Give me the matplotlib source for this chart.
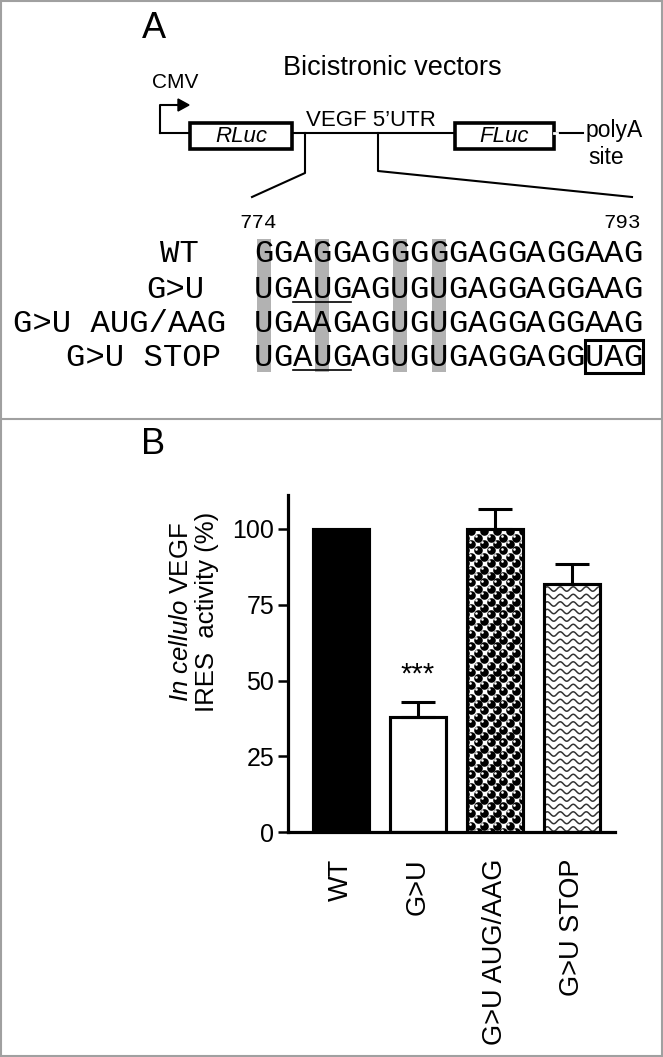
import numpy as np
import matplotlib
matplotlib.use('Agg')
import matplotlib.pyplot as plt
from matplotlib.patches import Rectangle, Polygon
from matplotlib.transforms import IdentityTransform

plt.rcParams['font.family'] = ['Liberation Sans', 'DejaVu Sans']
plt.rcParams['mathtext.fontset'] = 'custom'
plt.rcParams['mathtext.it'] = 'Liberation Sans:italic'
plt.rcParams['mathtext.rm'] = 'Liberation Sans'

# Panel A: sequences
row_labels = ['WT', 'G>U', 'G>U AUG/AAG', 'G>U STOP']
sequences = ['GGAGGAGGGGGAGGAGGAAG',
             'UGAUGAGUGUGAGGAGGAAG',
             'UGAAGAGUGUGAGGAGGAAG',
             'UGAUGAGUGUGAGGAGGUAG']
mutated_pos = [0, 3, 7, 9]
aug_underlined = [False, True, False, True]
nt_first, nt_last = '774', '793'

# Panel B: IRES activity
constructs = ['WT', 'G>U', 'G>U AUG/AAG', 'G>U STOP']
activity = [100, 38, 100, 82]
sem = [0, 5, 6.5, 6.5]
y_ticks = [0, 25, 50, 75, 100]

PX = 0.72  # points per pixel at dpi 100
mono = 'Liberation Mono'

fig = plt.figure(figsize=(6.63, 10.57), dpi=100)

# overlay in pixel coordinates for the schematic
ov = fig.add_axes([0, 0, 1, 1])
ov.set_xlim(0, 663)
ov.set_ylim(1057, 0)
ov.axis('off')

# frame + panel divider
ov.add_patch(Rectangle((1, 1), 661, 1055, fill=False, ec='#a0a0a0', lw=1.5))
ov.plot([1, 662], [419, 419], color='#a0a0a0', lw=1.5)

# ---- panel A ----
ov.text(154, 28, 'A', fontsize=26, ha='center', va='center')
ov.text(392, 68, 'Bicistronic vectors', fontsize=19.5, ha='center', va='center')
ov.text(175, 82, 'CMV', fontsize=15, ha='center', va='center')

# promoter arrow
ov.plot([160, 160, 179], [133, 105, 105], color='black', lw=1.5)
ov.add_patch(Polygon([[178, 99], [189, 105], [178, 111]], color='black'))

# backbone + boxes
ov.plot([160, 583], [133, 133], color='black', lw=1.5, zorder=1)
for x0, x1, name in [(190, 292, 'RLuc'), (455, 554, 'FLuc')]:
    ov.add_patch(Rectangle((x0, 123), x1 - x0, 26, fc='white', ec='black',
                           lw=2.6, zorder=2))
    ov.text((x0 + x1) / 2, 137, name, style='italic', fontsize=16,
            ha='center', va='center', zorder=3)
ov.plot([554, 557], [133, 133], color='white', lw=2, zorder=2)
ov.text(371, 120, 'VEGF 5\u2019UTR', fontsize=16, ha='center', va='center')
ov.text(586, 131, 'polyA', fontsize=16.5, ha='left', va='center')
ov.text(588, 158, 'site', fontsize=16.5, ha='left', va='center')

# zoom lines
ov.plot([305, 305, 252], [133, 173, 197], color='black', lw=1.5)
ov.plot([378, 378, 632], [133, 171, 197], color='black', lw=1.5)

# sequence block
x0 = 254
cw = 19.45
row_y = [253, 289, 323, 357]
label_x = [160, 146, 13, 66]
fs_seq = cw / 0.6 * PX

ov.text(258, 222, nt_first, family=mono, fontsize=15, ha='center', va='center')
ov.text(622, 222, nt_last, family=mono, fontsize=15, ha='center', va='center')

for p in mutated_pos:
    cx = x0 + (p + 0.5) * cw
    ov.add_patch(Rectangle((cx - 7, 239), 14, 133, color='#b2b2b2', lw=0, zorder=1))

for lab, lx, seq, y, ul in zip(row_labels, label_x, sequences, row_y, aug_underlined):
    ov.text(lx, y + 9, lab, family=mono, fontsize=fs_seq, ha='left', va='baseline', zorder=3)
    for i, ch in enumerate(seq):
        ov.text(x0 + (i + 0.5) * cw, y + 9, ch, family=mono, fontsize=fs_seq,
                ha='center', va='baseline', zorder=3)
    if ul:
        ov.plot([x0 + 2 * cw, x0 + 5 * cw], [y + 13, y + 13], color='black', lw=1.2, zorder=3)

# stop codon box
ov.add_patch(Rectangle((x0 + 17 * cw, row_y[3] - 17), 3 * cw, 33, fill=False,
                       ec='black', lw=2.2, zorder=3))

# ---- panel B ----
ov.text(153, 445, 'B', fontsize=26, ha='center', va='center')

ax_l, ax_r, ax_t, ax_b = 288, 615, 495, 832
ax = fig.add_axes([ax_l / 663, 1 - ax_b / 1057, (ax_r - ax_l) / 663, (ax_b - ax_t) / 1057])
ax.patch.set_alpha(0)

step = 77.0
xpos = np.arange(len(constructs))
bw = 56 / step
bars = ax.bar(xpos, activity, width=bw, color=['black', 'white', 'white', 'white'],
              edgecolor='black', lw=2.2, zorder=2)
ax.set_xlim(-(341 - ax_l) / step, (ax_r - 341) / step)
ax.set_ylim(0, (ax_b - ax_t) / ((ax_b - 529) / 100))

T = ax.transData
ident = IdentityTransform()

# ball pattern for AUG/AAG bar
r = bars[2]
(px0, py0) = T.transform((r.get_x(), 0))
(px1, py1) = T.transform((r.get_x() + r.get_width(), r.get_height()))
bx, by = [], []
j = 0
for yy in np.arange(py0, py1 + 8, 6.4):
    off = 6.4 if j % 2 else 0
    for xx in np.arange(px0 + off - 2, px1 + 8, 12.8):
        bx.append(xx)
        by.append(yy)
    j += 1
bx, by = np.array(bx), np.array(by)
sc = ax.scatter(bx, by, s=(8.6 * PX) ** 2, c='black', lw=0, transform=ident, zorder=3)
sc.set_clip_path(r)
hl = ax.scatter(bx - 1.8, by + 1.8, s=(2.6 * PX) ** 2, c='white', lw=0,
                transform=ident, zorder=3)
hl.set_clip_path(r)

# wavy pattern for STOP bar
r = bars[3]
(px0, py0) = T.transform((r.get_x(), 0))
(px1, py1) = T.transform((r.get_x() + r.get_width(), r.get_height()))
xs = np.arange(px0 - 2, px1 + 2, 0.5)
for yy in np.arange(py0 + 3, py1 + 8, 7.5):
    ln, = ax.plot(xs, yy + 2.2 * np.sin(2 * np.pi * (xs - px0) / 13), color='#333333',
                  lw=1.1, transform=ident, zorder=3)
    ln.set_clip_path(r)

# redraw outlines
ax.bar(xpos, activity, width=bw, fill=False, edgecolor='black', lw=2.2, zorder=4)

err_idx = [i for i, s in enumerate(sem) if s > 0]
ax.errorbar(xpos[err_idx], [activity[i] for i in err_idx],
            yerr=[[0] * len(err_idx), [sem[i] for i in err_idx]],
            fmt='none', ecolor='black', elinewidth=2.2, capsize=12, capthick=2.2, zorder=5)

ax.text(1, activity[1] + sem[1] + 9, '***', fontsize=21, ha='center', va='center')

for s in ['top', 'right']:
    ax.spines[s].set_visible(False)
for s in ['left', 'bottom']:
    ax.spines[s].set_linewidth(2.3)
ax.set_yticks(y_ticks)
ax.set_yticklabels([str(t) for t in y_ticks], fontsize=18)
ax.tick_params(axis='y', length=7, width=1.8, pad=3)
ax.set_xticks(xpos)
ax.set_xticklabels(constructs, rotation=90, fontsize=19.5, va='top')
ax.tick_params(axis='x', length=0, pad=19)

fig.text(194 / 663, 1 - 612 / 1057,
         r'$\mathit{In\ cellulo}$ VEGF' + '\n' + 'IRES  activity (%)',
         rotation=90, fontsize=18.5, ha='center', va='center', linespacing=1.1,
         multialignment='center')

fig.savefig('out.png', dpi=100)
